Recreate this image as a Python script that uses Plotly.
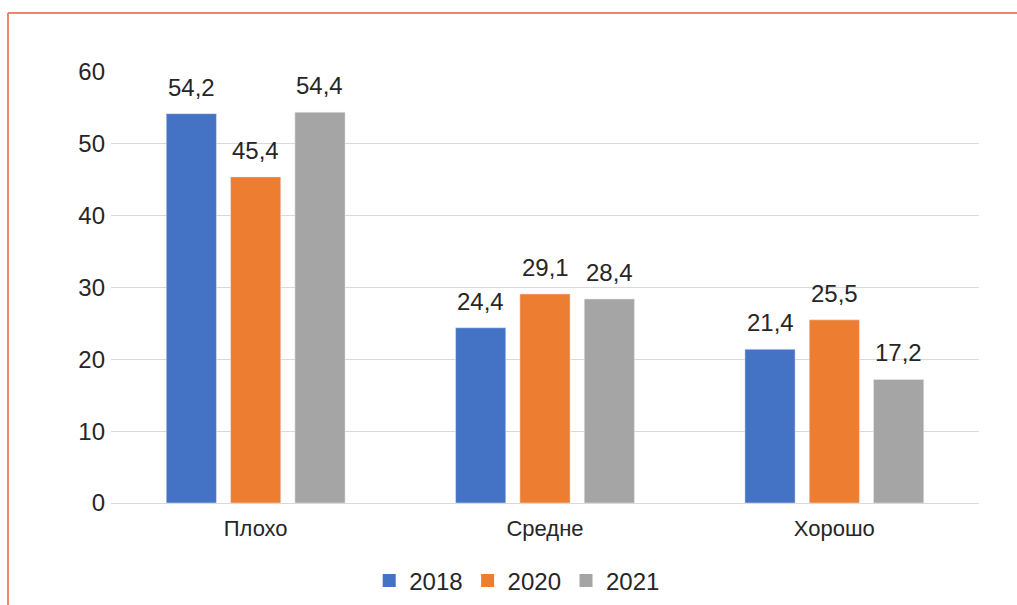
import plotly.graph_objects as go

categories = ["Плохо", "Средне", "Хорошо"]
years = ["2018", "2020", "2021"]
values_2018 = [54.2, 24.4, 21.4]
values_2020 = [45.4, 29.1, 25.5]
values_2021 = [54.4, 28.4, 17.2]
colors = ["#4472C4", "#ED7D31", "#A5A5A5"]
series = [values_2018, values_2020, values_2021]

W, H = 1017, 605
ml, mr, mt, mb = 111, 38, 72, 102
pw, ph = W - ml - mr, H - mt - mb
def px(x): return (x - ml) / pw
def py(y): return 1 - (y - mt) / ph

bargap, bargroupgap = 0.333, 0.22
slot = pw / len(categories) * (1 - bargap) / len(years)

fig = go.Figure()
for i, (name, vals, col) in enumerate(zip(years, series, colors)):
    fig.add_trace(go.Bar(x=categories, y=vals, name=name, marker_color=col, showlegend=False))
    for c, v in zip(categories, vals):
        fig.add_annotation(x=c, y=v, xref="x", yref="y", text=f"{v:.1f}".replace(".", ","),
                           showarrow=False, yanchor="bottom", yshift=11,
                           xshift=(i - 1) * slot,
                           font=dict(size=24, color="#262626"))
    # legend entries
    fig.add_trace(go.Scatter(x=[None], y=[None], mode="markers", name=name,
                             marker=dict(symbol="square", size=13, color=col)))

border = "#F08465"
fig.add_shape(type="line", xref="paper", yref="paper", x0=px(8), x1=px(W + 5), y0=py(13), y1=py(13),
              line=dict(color=border, width=2))
fig.add_shape(type="line", xref="paper", yref="paper", x0=px(8), x1=px(8), y0=py(13), y1=py(H + 5),
              line=dict(color=border, width=2))

fig.update_layout(
    width=W, height=H,
    margin=dict(l=ml, r=mr, t=mt, b=mb, autoexpand=False),
    paper_bgcolor="white", plot_bgcolor="white",
    font=dict(family="Liberation Sans, Arial, sans-serif", color="#262626", size=24),
    barmode="group", bargap=bargap, bargroupgap=bargroupgap,
    legend=dict(orientation="h", x=0.468, xanchor="center", y=py(581), yanchor="middle",
                font=dict(size=24), itemwidth=30, traceorder="normal"),
    yaxis=dict(range=[0, 60], dtick=10, showgrid=True, gridcolor="#D9D9D9", gridwidth=1,
               zeroline=True, zerolinecolor="#D9D9D9", zerolinewidth=1, showline=False,
               ticks="", tickfont=dict(size=24), ticklabelstandoff=5),
    xaxis=dict(showline=False, ticks="", tickfont=dict(size=22), ticklabelstandoff=10),
)

fig.write_html("out.html", config={"displayModeBar": False},
               post_script="document.body.style.margin='0';")
